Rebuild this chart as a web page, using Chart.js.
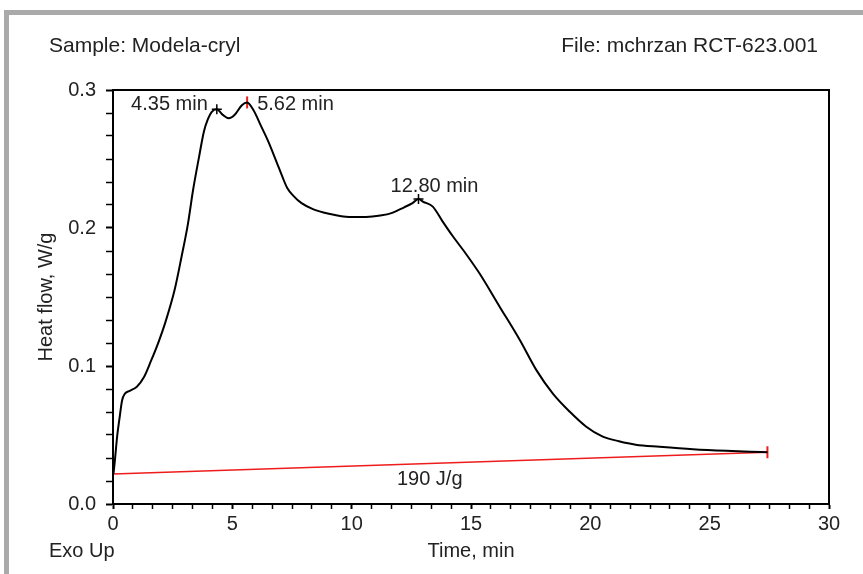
<!DOCTYPE html>
<html>
<head>
<meta charset="utf-8">
<script src="https://cdn.jsdelivr.net/npm/chart.js@4.4.0/dist/chart.umd.min.js"></script>
<style>
    html, body { margin: 0; padding: 0; background: #fff; }
    #wrap { position: relative; width: 863px; height: 574px; overflow: hidden; }
    #frame { position: absolute; left: 4px; top: 10px; width: 900px; height: 600px;
             border-top: 5px solid #aaaaab; border-left: 5px solid #aaaaab; }
    canvas { position: absolute; left: 0; top: 0; }
</style>
</head>
<body>
<div id="wrap">
    <div id="frame"></div>
    <canvas id="dscChart" width="863" height="574"></canvas>
</div>
<script>
// DSC curve (time in min, heat flow in W/g)
const timeMin = [0.02, 0.07, 0.18, 0.28, 0.38, 0.5, 0.7, 1.0, 1.3, 1.6, 1.9, 2.2, 2.58, 2.87, 3.14, 3.35, 3.6, 3.81, 3.98, 4.13, 4.35,
    4.6, 4.85, 5.1, 5.4, 5.62, 5.9, 6.2, 6.5, 6.85, 7.1, 7.3, 7.55, 7.9, 8.4, 9.0, 9.9, 10.6, 11.2, 11.7, 12.2, 12.55, 12.8,
    13.0, 13.4, 13.8, 14.24, 14.8, 15.36, 16.2, 17.04, 17.74, 18.43, 19.13, 19.83, 20.5, 21.2, 21.9, 22.9, 24.3, 25.7, 26.7, 27.42];
const heatFlow = [0.022, 0.03, 0.05, 0.063, 0.075, 0.080, 0.082, 0.085, 0.092, 0.104, 0.117, 0.132, 0.155, 0.179, 0.203, 0.227, 0.251, 0.27, 0.279, 0.284, 0.286,
    0.282, 0.2795, 0.282, 0.289, 0.291, 0.285, 0.274, 0.263, 0.248, 0.237, 0.229, 0.2235, 0.218, 0.2135, 0.2105, 0.208, 0.208, 0.209, 0.211, 0.215, 0.218, 0.221,
    0.219, 0.2155, 0.205, 0.194, 0.181, 0.167, 0.143, 0.119, 0.097, 0.080, 0.067, 0.056, 0.049, 0.0455, 0.043, 0.0415, 0.0397, 0.0385, 0.0379, 0.0375];

// integration baseline
const baselineTime = [0, 27.42];
const baselineFlow = [0.0217, 0.0375];
const areaLabel = '190 J/g';

// peak marks
const peakTimes = [4.35, 5.62, 12.80];
const peakFlows = [0.286, 0.291, 0.221];
const peakLabels = ['4.35 min', '5.62 min', '12.80 min'];

const xTickLabels = [0, 5, 10, 15, 20, 25, 30];
const yTickLabels = [0.0, 0.1, 0.2, 0.3];
const minorPerMajor = 6;

const FONT = '"Liberation Sans", Arial, sans-serif';

function isMajor(v, list) {
    return list.some(function(m) { return Math.abs(m - v) < 1e-6; });
}

function buildTicks(list) {
    return function(scale) {
        var step = (list[1] - list[0]) / minorPerMajor;
        var n = Math.round((list[list.length - 1] - list[0]) / step);
        var ticks = [];
        for (var i = 0; i <= n; i++) {
            ticks.push({ value: list[0] + i * step });
        }
        scale.ticks = ticks;
    };
}

// texts, frame and peak labels
const textPlugin = {
    id: 'dscText',
    afterDraw: function(chart) {
        var ctx = chart.ctx;
        var area = chart.chartArea;
        var xs = chart.scales.x;
        var ys = chart.scales.y;
        ctx.save();

        ctx.strokeStyle = '#000';
        ctx.lineWidth = 2;
        ctx.strokeRect(area.left, area.top, area.right - area.left, area.bottom - area.top);

        ctx.fillStyle = '#222';
        ctx.font = '21px ' + FONT;
        ctx.textBaseline = 'alphabetic';
        ctx.textAlign = 'left';
        ctx.fillText('Sample: Modela-cryl', 49, 52);
        ctx.textAlign = 'right';
        ctx.fillText('File: mchrzan RCT-623.001', 818, 52);

        ctx.font = '20px ' + FONT;
        ctx.textAlign = 'left';
        ctx.fillText('Exo Up', 49, 557);
        ctx.textAlign = 'center';
        ctx.fillText('Time, min', (area.left + area.right) / 2, 557);

        ctx.save();
        ctx.translate(52, (area.top + area.bottom) / 2);
        ctx.rotate(-Math.PI / 2);
        ctx.textAlign = 'center';
        ctx.fillText('Heat flow, W/g', 0, 0);
        ctx.restore();

        // peak labels
        var place = [
            { align: 'right', dx: -9, dy: -5 },
            { align: 'left', dx: 10, dy: 2 },
            { align: 'center', dx: 16, dy: -13 }
        ];
        ctx.textBaseline = 'middle';
        peakLabels.forEach(function(label, i) {
            var px = xs.getPixelForValue(peakTimes[i]);
            var py = ys.getPixelForValue(peakFlows[i]);
            ctx.textAlign = place[i].align;
            ctx.fillText(label, px + place[i].dx, py + place[i].dy);
        });

        // area label under the baseline
        var t = 13.27;
        var f = baselineFlow[0] + (baselineFlow[1] - baselineFlow[0]) * (t - baselineTime[0]) / (baselineTime[1] - baselineTime[0]);
        ctx.textAlign = 'center';
        ctx.fillText(areaLabel, xs.getPixelForValue(t), ys.getPixelForValue(f) + 16);

        ctx.restore();
    }
};

const curveData = timeMin.map(function(t, i) { return { x: t, y: heatFlow[i] }; });
const baselineData = baselineTime.map(function(t, i) { return { x: t, y: baselineFlow[i] }; });
const peakData = peakTimes.map(function(t, i) { return { x: t, y: peakFlows[i] }; });

new Chart(document.getElementById('dscChart').getContext('2d'), {
    type: 'scatter',
    data: {
        datasets: [{
            data: curveData,
            showLine: true,
            borderColor: '#000',
            borderWidth: 2,
            pointRadius: 0,
            cubicInterpolationMode: 'monotone'
        }, {
            data: baselineData,
            showLine: true,
            borderColor: '#ee1c1c',
            borderWidth: 1.5,
            pointStyle: 'line',
            rotation: 90,
            pointRadius: [0, 6],
            pointBorderColor: '#ee1c1c',
            pointBorderWidth: 2
        }, {
            data: peakData,
            showLine: false,
            pointStyle: ['cross', 'line', 'cross'],
            rotation: [0, 90, 0],
            pointRadius: [5, 6, 5],
            pointBorderColor: ['#000', '#ee1c1c', '#000'],
            pointBorderWidth: [1.5, 2, 1.5]
        }]
    },
    options: {
        responsive: false,
        animation: false,
        devicePixelRatio: 1,
        layout: { padding: { left: 0, top: 90, right: 34, bottom: 0 } },
        plugins: {
            legend: { display: false },
            tooltip: { enabled: false }
        },
        scales: {
            x: {
                type: 'linear',
                min: 0,
                max: 30,
                afterBuildTicks: buildTicks(xTickLabels),
                afterFit: function(scale) { scale.height = 70; },
                border: { display: true, color: '#000', width: 2 },
                grid: {
                    drawOnChartArea: false,
                    drawTicks: true,
                    tickLength: 5,
                    tickColor: '#000',
                    tickWidth: function(c) { return isMajor(c.tick.value, xTickLabels) ? 2 : 1.5; }
                },
                ticks: {
                    autoSkip: false,
                    maxRotation: 0,
                    padding: 3,
                    color: '#222',
                    font: { family: FONT, size: 20 },
                    callback: function(v) { return isMajor(v, xTickLabels) ? String(Math.round(v)) : ''; }
                }
            },
            y: {
                type: 'linear',
                min: 0,
                max: 0.3,
                afterBuildTicks: buildTicks(yTickLabels),
                afterFit: function(scale) { scale.width = 113; },
                border: { display: true, color: '#000', width: 2 },
                grid: {
                    drawOnChartArea: false,
                    drawTicks: true,
                    tickLength: 7,
                    tickColor: '#000',
                    tickWidth: function(c) { return isMajor(c.tick.value, yTickLabels) ? 2 : 1.5; }
                },
                ticks: {
                    autoSkip: false,
                    padding: 10,
                    color: '#222',
                    font: { family: FONT, size: 20 },
                    callback: function(v) { return isMajor(v, yTickLabels) ? v.toFixed(1) : ''; }
                }
            }
        }
    },
    plugins: [textPlugin]
});
</script>
</body>
</html>
